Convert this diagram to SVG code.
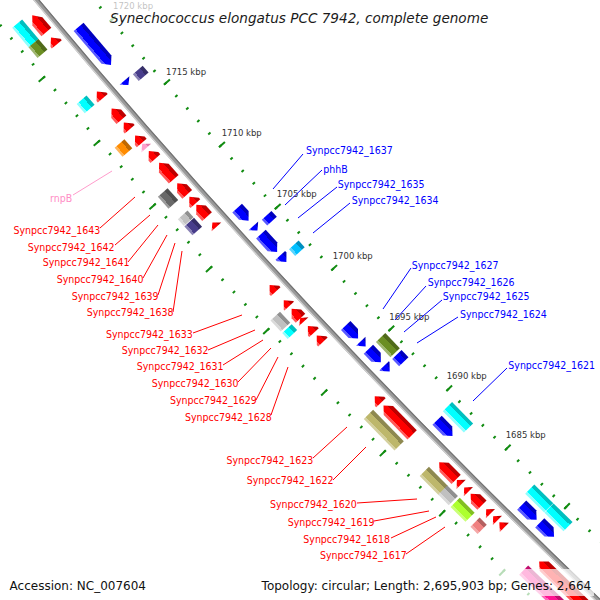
<svg xmlns="http://www.w3.org/2000/svg" width="600" height="600" viewBox="0 0 600 600">
<defs>
<linearGradient id="gRed"><stop offset="0" stop-color="#bf0000"/><stop offset=".3" stop-color="#bf0000"/><stop offset=".3" stop-color="#f00"/><stop offset=".8" stop-color="#f00"/><stop offset=".8" stop-color="#ff5959"/><stop offset="1" stop-color="#ff5959"/></linearGradient>
<linearGradient id="gBlue"><stop offset="0" stop-color="#0000bf"/><stop offset=".3" stop-color="#0000bf"/><stop offset=".3" stop-color="#00f"/><stop offset=".8" stop-color="#00f"/><stop offset=".8" stop-color="#5959ff"/><stop offset="1" stop-color="#5959ff"/></linearGradient>
<linearGradient id="gCyan"><stop offset="0" stop-color="#00bfbf"/><stop offset=".3" stop-color="#00bfbf"/><stop offset=".3" stop-color="#0ff"/><stop offset=".8" stop-color="#0ff"/><stop offset=".8" stop-color="#8cffff"/><stop offset="1" stop-color="#8cffff"/></linearGradient>
<linearGradient id="gOlive"><stop offset="0" stop-color="#506a1a"/><stop offset=".3" stop-color="#506a1a"/><stop offset=".3" stop-color="#6b8e23"/><stop offset=".8" stop-color="#6b8e23"/><stop offset=".8" stop-color="#9fb670"/><stop offset="1" stop-color="#9fb670"/></linearGradient>
<linearGradient id="gOrange"><stop offset="0" stop-color="#bf6900"/><stop offset=".3" stop-color="#bf6900"/><stop offset=".3" stop-color="#ff8c00"/><stop offset=".8" stop-color="#ff8c00"/><stop offset=".8" stop-color="#ffb459"/><stop offset="1" stop-color="#ffb459"/></linearGradient>
<linearGradient id="gDim"><stop offset="0" stop-color="#4f4f4f"/><stop offset=".3" stop-color="#4f4f4f"/><stop offset=".3" stop-color="#696969"/><stop offset=".8" stop-color="#696969"/><stop offset=".8" stop-color="#9a9a9a"/><stop offset="1" stop-color="#9a9a9a"/></linearGradient>
<linearGradient id="gSilver"><stop offset="0" stop-color="#909090"/><stop offset=".3" stop-color="#909090"/><stop offset=".3" stop-color="#c0c0c0"/><stop offset=".8" stop-color="#c0c0c0"/><stop offset=".8" stop-color="#dadada"/><stop offset="1" stop-color="#dadada"/></linearGradient>
<linearGradient id="gSlate"><stop offset="0" stop-color="#362e68"/><stop offset=".3" stop-color="#362e68"/><stop offset=".3" stop-color="#483d8b"/><stop offset=".8" stop-color="#483d8b"/><stop offset=".8" stop-color="#8881b4"/><stop offset="1" stop-color="#8881b4"/></linearGradient>
<linearGradient id="gKhaki"><stop offset="0" stop-color="#8e8950"/><stop offset=".3" stop-color="#8e8950"/><stop offset=".3" stop-color="#bdb76b"/><stop offset=".8" stop-color="#bdb76b"/><stop offset=".8" stop-color="#d4d09f"/><stop offset="1" stop-color="#d4d09f"/></linearGradient>
<linearGradient id="gLime"><stop offset="0" stop-color="#82bf23"/><stop offset=".3" stop-color="#82bf23"/><stop offset=".3" stop-color="#adff2f"/><stop offset=".8" stop-color="#adff2f"/><stop offset=".8" stop-color="#caff78"/><stop offset="1" stop-color="#caff78"/></linearGradient>
<linearGradient id="gCoral"><stop offset="0" stop-color="#b46060"/><stop offset=".3" stop-color="#b46060"/><stop offset=".3" stop-color="#f08080"/><stop offset=".8" stop-color="#f08080"/><stop offset=".8" stop-color="#f5a8a8"/><stop offset="1" stop-color="#f5a8a8"/></linearGradient>
<linearGradient id="gMag"><stop offset="0" stop-color="#bf0f6e"/><stop offset=".3" stop-color="#bf0f6e"/><stop offset=".3" stop-color="#ff1493"/><stop offset=".8" stop-color="#ff1493"/><stop offset=".8" stop-color="#ff66b9"/><stop offset="1" stop-color="#ff66b9"/></linearGradient>
<linearGradient id="gPink"><stop offset="0" stop-color="#e07aa8"/><stop offset=".3" stop-color="#e07aa8"/><stop offset=".3" stop-color="#ffa0cc"/><stop offset=".8" stop-color="#ffa0cc"/><stop offset=".8" stop-color="#ffc6e2"/><stop offset="1" stop-color="#ffc6e2"/></linearGradient>
<linearGradient id="gSky"><stop offset="0" stop-color="#008fbf"/><stop offset=".3" stop-color="#008fbf"/><stop offset=".3" stop-color="#00bfff"/><stop offset=".8" stop-color="#00bfff"/><stop offset=".8" stop-color="#59d5ff"/><stop offset="1" stop-color="#59d5ff"/></linearGradient>
</defs>
<style>
.lab{font-family:'DejaVu Sans Condensed','Liberation Sans',sans-serif;font-size:10.5px}
.lr{fill:#f00}.lb{fill:#00f}.lp{fill:#ff8ec6}
.kbp{font-family:'DejaVu Sans','Liberation Sans',sans-serif;font-size:8.5px;fill:#333}
.leg{font-family:'DejaVu Sans','Liberation Sans',sans-serif;font-size:12px;fill:#111}
.ttl{font-family:'DejaVu Sans','Liberation Sans',sans-serif;font-size:13.6px;font-style:italic;fill:#1a1a1a}
.cr{stroke:#f00}.cb{stroke:#00f}.cp{stroke:#ff9ccc}
.red{fill:url(#gRed)}.blue{fill:url(#gBlue)}.cyan{fill:url(#gCyan)}.olive{fill:url(#gOlive)}
.orange{fill:url(#gOrange)}.dim{fill:url(#gDim)}.silver{fill:url(#gSilver)}.slate{fill:url(#gSlate)}
.khaki{fill:url(#gKhaki)}.lime{fill:url(#gLime)}.coral{fill:url(#gCoral)}.mag{fill:url(#gMag)}
.pink{fill:url(#gPink)}.sky{fill:url(#gSky)}
.tk{fill:none;stroke:#128c12}
.box{fill:#fff;fill-opacity:.7}
</style>
<rect width="600" height="600" fill="#fff"/>
<g id="map" transform="translate(5561,-4608)">
<g id="backbone" fill="none">
<circle r="7194" stroke="#9a9a9a" stroke-width="5"/>
<circle r="7195.9" stroke="#d2d2d2" stroke-width="1.3"/>
<circle r="7192.1" stroke="#727272" stroke-width="1.2"/>
</g>
<g id="ticks">
<path class="tk" stroke-width="3" stroke-dasharray="2 14.6641" stroke-dashoffset="1" d="M-5535.244,4525.879A7150,7150 0 0 0 -4899.151,5207.767"/>
<path class="tk" stroke-width="8" stroke-dasharray="2 81.2971" stroke-dashoffset="34.319" d="M-5533.696,4524.613A7148,7148 0 0 0 -4897.781,5206.310"/>
<path class="tk" stroke-width="3" stroke-dasharray="2 14.8692" stroke-dashoffset="1" d="M-5603.370,4581.582A7238,7238 0 0 0 -4959.449,5271.862"/>
<path class="tk" stroke-width="8" stroke-dasharray="2 82.381" stroke-dashoffset="34.752" d="M-5605.693,4583.481A7241,7241 0 0 0 -4961.504,5274.048"/>
</g>
<g id="slot_outer1">
<g id="o1_01" transform="rotate(140.010) translate(7207,0)"><path class="red" d="M-6.5,-11H6.5V3L0,11L-6.5,3Z"/></g>
<g id="o1_02" transform="rotate(139.830) translate(7207,0)"><path class="red" d="M-6.5,-4.5H6.5V-2.5L0,4.5L-6.5,-2.5Z"/></g>
<g id="o1_03" transform="rotate(139.267) translate(7207,0)"><path class="red" d="M-6.5,-4.5H6.5V-2.5L0,4.5L-6.5,-2.5Z"/></g>
<g id="o1_04" transform="rotate(139.064) translate(7207,0)"><path class="red" d="M-6.5,-7.5H6.5V0.5L0,7.5L-6.5,0.5Z"/></g>
<g id="o1_05" transform="rotate(138.940) translate(7207,0)"><path class="red" d="M-6.5,-4.5H6.5V-2.5L0,4.5L-6.5,-2.5Z"/></g>
<g id="o1_06" transform="rotate(138.799) translate(7207,0)"><path class="red" d="M-6.5,-5H6.5V-2L0,5L-6.5,-2Z"/></g>
<g id="rnpB_feature" transform="rotate(138.729) translate(7207,0)"><path class="pink" d="M-6.5,-3H6.5L0,3Z"/></g>
<g id="o1_07" transform="rotate(138.634) translate(7207,0)"><path class="red" d="M-6.5,-5H6.5V-2L0,5L-6.5,-2Z"/></g>
<g id="o1_08" transform="rotate(138.462) translate(7207,0)"><path class="red" d="M-6.5,-11H6.5V4L0,11L-6.5,4Z"/></g>
<g id="o1_09" transform="rotate(138.273) translate(7207,0)"><path class="red" d="M-6.5,-7.5H6.5V0.5L0,7.5L-6.5,0.5Z"/></g>
<g id="o1_10" transform="rotate(138.152) translate(7207,0)"><path class="red" d="M-6.5,-4.5H6.5V-2.5L0,4.5L-6.5,-2.5Z"/></g>
<g id="o1_11" transform="rotate(138.041) translate(7207,0)"><path class="red" d="M-6.5,-8H6.5V1L0,8L-6.5,1Z"/></g>
<g id="o1_12" transform="rotate(137.890) translate(7207,0)"><path class="red" d="M-6.5,-3H6.5L0,3Z"/></g>
<g id="o1_13" transform="rotate(137.204) translate(7207,0)"><path class="red" d="M-6.5,-4.5H6.5V-2.5L0,4.5L-6.5,-2.5Z"/></g>
<g id="o1_14" transform="rotate(137.043) translate(7207,0)"><path class="red" d="M-6.5,-4H6.5V-3L0,4L-6.5,-3Z"/></g>
<g id="o1_15" transform="rotate(136.931) translate(7207,0)"><path class="red" d="M-6.5,-6.5H6.5V-0.5L0,6.5L-6.5,-0.5Z"/></g>
<g id="o1_16" transform="rotate(136.862) translate(7207,0)"><path class="red" d="M-6.5,-2.5H6.5L0,2.5Z"/></g>
<g id="o1_17" transform="rotate(136.758) translate(7207,0)"><path class="red" d="M-6.5,-4.5H6.5V-2.5L0,4.5L-6.5,-2.5Z"/></g>
<g id="o1_18" transform="rotate(136.655) translate(7207,0)"><path class="red" d="M-6.5,-4.5H6.5V-2.5L0,4.5L-6.5,-2.5Z"/></g>
<g id="o1_19" transform="rotate(135.987) translate(7207,0)"><path class="red" d="M-6.5,-4.5H6.5V-2.5L0,4.5L-6.5,-2.5Z"/></g>
<g id="o1_20" transform="rotate(135.759) translate(7207,0)"><path class="red" d="M-6.5,-20.5H6.5V13.5L0,20.5L-6.5,13.5Z"/></g>
<g id="o1_21" transform="rotate(135.194) translate(7207,0)"><path class="red" d="M-6.5,-12H6.5V5L0,12L-6.5,5Z"/></g>
<g id="o1_22" transform="rotate(135.066) translate(7207,0)"><path class="red" d="M-6.5,-3H6.5L0,3Z"/></g>
<g id="o1_23" transform="rotate(134.984) translate(7207,0)"><path class="red" d="M-6.5,-3H6.5L0,3Z"/></g>
<g id="o1_24" transform="rotate(134.872) translate(7207,0)"><path class="red" d="M-6.5,-8H6.5V1L0,8L-6.5,1Z"/></g>
<g id="o1_25" transform="rotate(134.737) translate(7207,0)"><path class="red" d="M-6.5,-3H6.5L0,3Z"/></g>
<g id="o1_26" transform="rotate(134.659) translate(7207,0)"><path class="red" d="M-6.5,-3H6.5L0,3Z"/></g>
<g id="o1_27" transform="rotate(134.586) translate(7207,0)"><path class="red" d="M-6.5,-3.5H6.5L0,3.5Z"/></g>
<g id="o1_28" transform="rotate(133.912) translate(7207,0)"><path class="red" d="M-6.5,-32.5H6.5V25.5L0,32.5L-6.5,25.5Z"/></g>
</g>
<g id="slot_outer2">
<g id="o2_01" transform="rotate(140.021) translate(7224,0)"><rect class="cyan" x="-6.5" y="-12.8" width="13" height="25.6"/></g>
<g id="o2_02" transform="rotate(139.866) translate(7224,0)"><rect class="olive" x="-6.5" y="-7" width="13" height="14"/></g>
<g id="o2_03" transform="rotate(139.283) translate(7224,0)"><rect class="cyan" x="-6.5" y="-6.2" width="13" height="12.4"/></g>
<g id="o2_04" transform="rotate(138.825) translate(7224,0)"><rect class="orange" x="-6.5" y="-6" width="13" height="12"/></g>
<g id="o2_05" transform="rotate(138.291) translate(7224,0)"><rect class="dim" x="-6.5" y="-8" width="13" height="16"/></g>
<g id="o2_06" transform="rotate(138.081) translate(7224,0)"><rect class="silver" x="-6.5" y="-4.5" width="13" height="9"/></g>
<g id="o2_07" transform="rotate(137.992) translate(7224,0)"><rect class="slate" x="-6.5" y="-6" width="13" height="12"/></g>
<g id="o2_08" transform="rotate(136.969) translate(7224,0)"><rect class="silver" x="-6.5" y="-7.5" width="13" height="15"/></g>
<g id="o2_09" transform="rotate(136.861) translate(7224,0)"><rect class="cyan" x="-6.5" y="-4" width="13" height="8"/></g>
<g id="o2_10" transform="rotate(135.780) translate(7224,0)"><rect class="khaki" x="-6.5" y="-22" width="13" height="44"/></g>
<g id="o2_11" transform="rotate(135.214) translate(7224,0)"><rect class="khaki" x="-6.5" y="-13.5" width="13" height="27"/></g>
<g id="o2_12" transform="rotate(135.054) translate(7224,0)"><rect class="silver" x="-6.5" y="-7.5" width="13" height="15"/></g>
<g id="o2_13" transform="rotate(134.891) translate(7224,0)"><rect class="lime" x="-6.5" y="-10.5" width="13" height="21"/></g>
<g id="o2_14" transform="rotate(134.712) translate(7224,0)"><rect class="coral" x="-6.5" y="-5" width="13" height="10"/></g>
<g id="o2_15" transform="rotate(133.965) translate(7224,0)"><rect class="mag" x="-6.5" y="-31" width="13" height="62"/></g>
</g>
<g id="slot_inner1">
<g id="i1_01" transform="rotate(139.589) translate(7179,0)"><path class="blue" d="M-6.5,25H6.5V-18L0,-25L-6.5,-18Z"/></g>
<g id="i1_02" transform="rotate(139.201) translate(7179,0)"><path class="blue" d="M-6.5,3H6.5L0,-3Z"/></g>
<g id="i1_03" transform="rotate(137.799) translate(7179,0)"><path class="blue" d="M-6.5,8.5H6.5V-1.5L0,-8.5L-6.5,-1.5Z"/></g>
<g id="i1_04" transform="rotate(137.650) translate(7179,0)"><path class="blue" d="M-6.5,3H6.5L0,-3Z"/></g>
<g id="i1_05" transform="rotate(137.489) translate(7179,0)"><path class="blue" d="M-6.5,12H6.5V-5L0,-12L-6.5,-5Z"/></g>
<g id="i1_06" transform="rotate(137.320) translate(7179,0)"><path class="blue" d="M-6.5,4.5H6.5V2.5L0,-4.5L-6.5,2.5Z"/></g>
<g id="i1_07" transform="rotate(136.519) translate(7179,0)"><path class="blue" d="M-6.5,9H6.5V-2L0,-9L-6.5,-2Z"/></g>
<g id="i1_08" transform="rotate(136.388) translate(7179,0)"><path class="blue" d="M-6.5,3.5H6.5L0,-3.5Z"/></g>
<g id="i1_09" transform="rotate(136.256) translate(7179,0)"><path class="blue" d="M-6.5,9H6.5V-2L0,-9L-6.5,-2Z"/></g>
<g id="i1_10" transform="rotate(136.114) translate(7179,0)"><path class="blue" d="M-6.5,4H6.5V3L0,-4L-6.5,3Z"/></g>
<g id="i1_11" transform="rotate(135.452) translate(7179,0)"><path class="blue" d="M-6.5,11H6.5V-4L0,-11L-6.5,-4Z"/></g>
<g id="i1_12" transform="rotate(134.500) translate(7179,0)"><path class="blue" d="M-6.5,10.5H6.5V-3.5L0,-10.5L-6.5,-3.5Z"/></g>
<g id="i1_13" transform="rotate(134.302) translate(7179,0)"><path class="blue" d="M-6.5,10H6.5V-3L0,-10L-6.5,-3Z"/></g>
</g>
<g id="slot_inner2">
<g id="i2_01" transform="rotate(139.184) translate(7162,0)"><rect class="slate" x="-6.5" y="-4.5" width="13" height="9"/></g>
<g id="i2_02" transform="rotate(137.634) translate(7162,0)"><rect class="blue" x="-6.5" y="-4" width="13" height="8"/></g>
<g id="i2_03" transform="rotate(137.308) translate(7162,0)"><rect class="sky" x="-6.5" y="-4.5" width="13" height="9"/></g>
<g id="i2_04" transform="rotate(136.245) translate(7162,0)"><rect class="olive" x="-6.5" y="-10.5" width="13" height="21"/></g>
<g id="i2_05" transform="rotate(136.101) translate(7162,0)"><rect class="blue" x="-6.5" y="-5" width="13" height="10"/></g>
<g id="i2_06" transform="rotate(135.440) translate(7162,0)"><rect class="cyan" x="-6.5" y="-15" width="13" height="30"/></g>
<g id="i2_07" transform="rotate(134.521) translate(7162,0)"><rect class="cyan" x="-6.5" y="-13.3" width="13" height="26.6"/></g>
<g id="i2_08" transform="rotate(134.305) translate(7162,0)"><rect class="cyan" x="-6.5" y="-13.3" width="13" height="26.6"/></g>
</g>
</g>
<g id="ruler_labels" class="kbp">
<text x="113" y="9.2">1720 kbp</text>
<text x="166" y="74.5">1715 kbp</text>
<text x="221.7" y="135.8">1710 kbp</text>
<text x="276.7" y="197.2">1705 kbp</text>
<text x="332.7" y="259.2">1700 kbp</text>
<text x="389.3" y="319.8">1695 kbp</text>
<text x="446.7" y="378.8">1690 kbp</text>
<text x="505.7" y="437.5">1685 kbp</text>
</g>
<g id="connectors" fill="none" stroke-width="1">
<path class="cp" d="M73,195L112,171"/>
<path class="cr" d="M100,228L135,197M115,245L150,215M128,262L158,225M143,278L167,235M158,295L175,243M173,312L182,251"/>
<path class="cr" d="M193,333L242,315M208,350L255,330M223,365L263,340M238,382L271,348M256,400L278,357M271,415L288,367"/>
<path class="cr" d="M313,458L347,427M333,480L366,447M357,503L417,499M374,521L429,511M391,538L436,517M406,554L445,527"/>
<path class="cb" d="M303,154L273,189M322,170L285,205M337,187L298,218M350,203L313,233"/>
<path class="cb" d="M411,268L383,309M426,286L395,320M442,300L404,332M458,317L417,343M507,368L473,401"/>
</g>
<g id="labels" class="lab">
<g id="lab_rnpB"><text class="lp" x="50" y="202">rnpB</text></g>
<g id="lab_1643"><text class="lr" x="13.5" y="234">Synpcc7942_1643</text></g>
<g id="lab_1642"><text class="lr" x="27.7" y="251">Synpcc7942_1642</text></g>
<g id="lab_1641"><text class="lr" x="42.7" y="266">Synpcc7942_1641</text></g>
<g id="lab_1640"><text class="lr" x="56.7" y="282.5">Synpcc7942_1640</text></g>
<g id="lab_1639"><text class="lr" x="71.7" y="300">Synpcc7942_1639</text></g>
<g id="lab_1638"><text class="lr" x="86.7" y="316">Synpcc7942_1638</text></g>
<g id="lab_1633"><text class="lr" x="106" y="337.5">Synpcc7942_1633</text></g>
<g id="lab_1632"><text class="lr" x="121.7" y="354">Synpcc7942_1632</text></g>
<g id="lab_1631"><text class="lr" x="136.7" y="370">Synpcc7942_1631</text></g>
<g id="lab_1630"><text class="lr" x="151.7" y="386.5">Synpcc7942_1630</text></g>
<g id="lab_1629"><text class="lr" x="170" y="404">Synpcc7942_1629</text></g>
<g id="lab_1628"><text class="lr" x="185" y="421">Synpcc7942_1628</text></g>
<g id="lab_1623"><text class="lr" x="226.5" y="464">Synpcc7942_1623</text></g>
<g id="lab_1622"><text class="lr" x="246.7" y="484">Synpcc7942_1622</text></g>
<g id="lab_1620"><text class="lr" x="270" y="507.5">Synpcc7942_1620</text></g>
<g id="lab_1619"><text class="lr" x="287.7" y="526">Synpcc7942_1619</text></g>
<g id="lab_1618"><text class="lr" x="303.3" y="542.5">Synpcc7942_1618</text></g>
<g id="lab_1617"><text class="lr" x="320" y="558.5">Synpcc7942_1617</text></g>
<g id="lab_1637"><text class="lb" x="306" y="154">Synpcc7942_1637</text></g>
<g id="lab_phhB"><text class="lb" x="323.3" y="173">phhB</text></g>
<g id="lab_1635"><text class="lb" x="337.7" y="188">Synpcc7942_1635</text></g>
<g id="lab_1634"><text class="lb" x="351.7" y="203.5">Synpcc7942_1634</text></g>
<g id="lab_1627"><text class="lb" x="411.7" y="268.5">Synpcc7942_1627</text></g>
<g id="lab_1626"><text class="lb" x="427.7" y="286">Synpcc7942_1626</text></g>
<g id="lab_1625"><text class="lb" x="442.7" y="300">Synpcc7942_1625</text></g>
<g id="lab_1624"><text class="lb" x="460" y="318">Synpcc7942_1624</text></g>
<g id="lab_1621"><text class="lb" x="508.3" y="368.5">Synpcc7942_1621</text></g>
</g>
<g id="title">
<rect class="box" x="107" y="0" width="385" height="29"/>
<text class="ttl" x="110" y="23">Synechococcus elongatus PCC 7942, complete genome</text>
</g>
<g id="legend">
<rect class="box" x="6" y="569" width="141" height="27"/>
<text class="leg" x="9.6" y="590">Accession: NC_007604</text>
<rect class="box" x="257" y="569" width="337" height="27"/>
<text class="leg" x="261.6" y="590">Topology: circular; Length: 2,695,903 bp; Genes: 2,664</text>
</g>
</svg>
